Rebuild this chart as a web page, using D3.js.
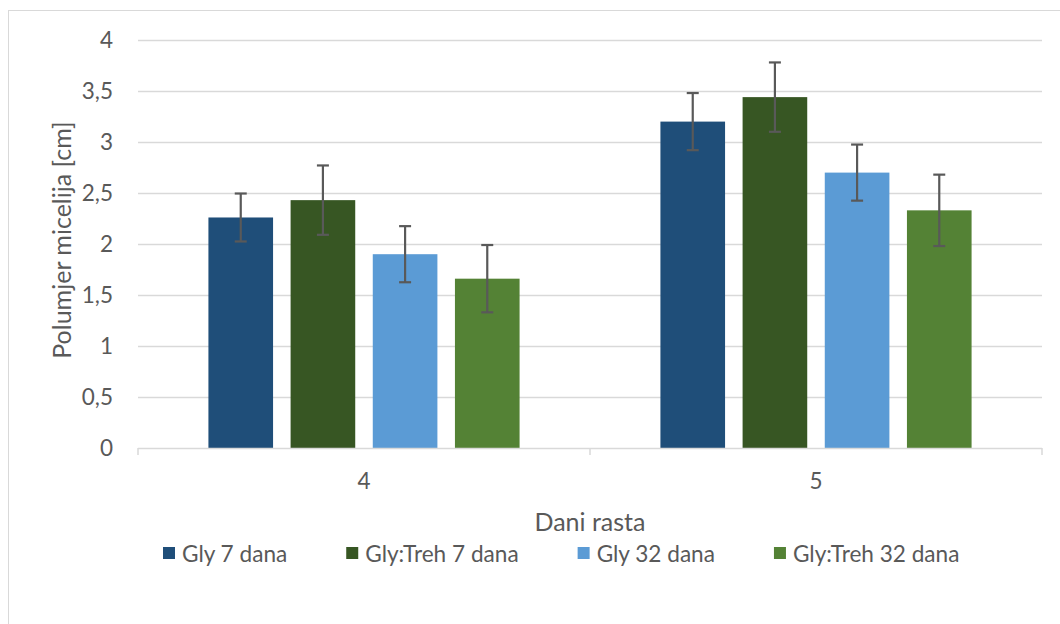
<!DOCTYPE html>
<html>
<head>
<meta charset="utf-8">
<script src="https://cdn.jsdelivr.net/npm/d3@7"></script>
<style>
  html, body { margin: 0; padding: 0; background: #ffffff; }
  svg { display: block; }
  text { font-family: Lato, "Open Sans", sans-serif; fill: #595959; }
</style>
</head>
<body>
<svg id="chart" width="1060" height="624"></svg>
<script>
// ---- data ----
const categories = ["4", "5"];
const seriesNames = ["Gly 7 dana", "Gly:Treh 7 dana", "Gly 32 dana", "Gly:Treh 32 dana"];
const glyDay7 = [2.26, 3.20];
const glyTrehDay7 = [2.43, 3.44];
const glyDay32 = [1.90, 2.70];
const glyTrehDay32 = [1.66, 2.33];
const errGlyDay7 = [0.235, 0.28];
const errGlyTrehDay7 = [0.34, 0.34];
const errGlyDay32 = [0.275, 0.275];
const errGlyTrehDay32 = [0.33, 0.35];
const yTickValues = [0, 0.5, 1, 1.5, 2, 2.5, 3, 3.5, 4];
const seriesColors = ["#1F4E79", "#375623", "#5B9BD5", "#548235"];
const yTitle = "Polumjer micelija [cm]";
const xTitle = "Dani rasta";

const seriesValues = [glyDay7, glyTrehDay7, glyDay32, glyTrehDay32];
const seriesErrors = [errGlyDay7, errGlyTrehDay7, errGlyDay32, errGlyTrehDay32];

const rows = [];
categories.forEach((c, ci) => {
  seriesNames.forEach((s, si) => {
    rows.push({ cat: c, series: s, value: seriesValues[si][ci], err: seriesErrors[si][ci], color: seriesColors[si] });
  });
});

const svg = d3.select("#chart");
const locale = d3.formatLocale({ decimal: ",", thousands: ".", grouping: [3], currency: ["", " €"] });
const fmt = locale.format("~g");

// chart border
svg.append("rect")
  .attr("x", 8.5).attr("y", 10.5)
  .attr("width", 1200).attr("height", 800)
  .attr("fill", "none").attr("stroke", "#D9D9D9").attr("stroke-width", 1);

const plotLeft = 138, plotRight = 1042, plotTop = 40, plotBottom = 448;

const y = d3.scaleLinear().domain([0, 4]).range([plotBottom, plotTop]);
const x0 = d3.scaleBand().domain(categories).range([plotLeft, plotRight]).paddingInner(0).paddingOuter(0);
const x1 = d3.scaleBand().domain(seriesNames).range([0, x0.bandwidth()]).paddingInner(0.2134).paddingOuter(0.857);

// gridlines
svg.append("g").selectAll("line.grid")
  .data(yTickValues.filter(v => v > 0))
  .join("line")
  .attr("x1", plotLeft).attr("x2", plotRight)
  .attr("y1", d => Math.round(y(d)) + 0.5).attr("y2", d => Math.round(y(d)) + 0.5)
  .attr("stroke", "#D9D9D9").attr("stroke-width", 1.3);

// y axis labels
const yAxis = d3.axisLeft(y).tickValues(yTickValues).tickFormat(fmt).tickSize(0).tickPadding(0);
const gy = svg.append("g").attr("transform", `translate(113,0)`).call(yAxis);
gy.select(".domain").remove();
gy.selectAll("text").attr("font-size", 22.5).attr("fill", "#595959").style("font-family", "Lato, sans-serif").attr("dy", "0.34em");

// bars
svg.append("g").selectAll("rect.bar")
  .data(rows)
  .join("rect")
  .attr("x", d => x0(d.cat) + x1(d.series))
  .attr("width", x1.bandwidth())
  .attr("y", d => y(d.value))
  .attr("height", d => y(0) - y(d.value))
  .attr("fill", d => d.color);

// error bars
const eg = svg.append("g").attr("stroke", "#595959").attr("stroke-width", 2.2).attr("fill", "none");
rows.forEach(d => {
  const cx = x0(d.cat) + x1(d.series) + x1.bandwidth() / 2;
  const yt = y(d.value + d.err), yb = y(d.value - d.err);
  eg.append("line").attr("x1", cx).attr("x2", cx).attr("y1", yt).attr("y2", yb);
  eg.append("line").attr("x1", cx - 6).attr("x2", cx + 6).attr("y1", yt).attr("y2", yt);
  eg.append("line").attr("x1", cx - 6).attr("x2", cx + 6).attr("y1", yb).attr("y2", yb);
});

// x axis baseline and boundary ticks
const xa = svg.append("g");
xa.append("line").attr("x1", plotLeft).attr("x2", plotRight)
  .attr("y1", plotBottom + 0.5).attr("y2", plotBottom + 0.5)
  .attr("stroke", "#D9D9D9").attr("stroke-width", 1.5);
const boundaries = categories.map(c => x0(c)).concat([x0(categories[categories.length - 1]) + x0.bandwidth()]);
xa.selectAll("line.tick").data(boundaries).join("line")
  .attr("x1", d => d).attr("x2", d => d)
  .attr("y1", plotBottom).attr("y2", plotBottom + 7)
  .attr("stroke", "#D9D9D9").attr("stroke-width", 1.5);

const xAxis = d3.axisBottom(x0).tickSize(0).tickPadding(0);
const gx = svg.append("g").attr("transform", `translate(0,481)`).call(xAxis);
gx.select(".domain").remove();
gx.selectAll("text").attr("font-size", 22.5).attr("fill", "#595959").style("font-family", "Lato, sans-serif").attr("dy", "0.34em");

// axis titles
svg.append("text")
  .attr("transform", "translate(61,240) rotate(-90)")
  .attr("text-anchor", "middle").attr("dominant-baseline", "central")
  .attr("font-size", 25).text(yTitle);
svg.append("text")
  .attr("x", 590).attr("y", 521)
  .attr("text-anchor", "middle").attr("dominant-baseline", "central")
  .attr("font-size", 25).text(xTitle);

// legend
const legend = svg.append("g");
let lx = 163;
seriesNames.forEach((s, i) => {
  legend.append("rect").attr("x", lx).attr("y", 547).attr("width", 12).attr("height", 12).attr("fill", seriesColors[i]);
  const t = legend.append("text").attr("x", lx + 19).attr("y", 553)
    .attr("dominant-baseline", "central").attr("font-size", 22.6).text(s);
  const w = t.node().getComputedTextLength();
  lx = lx + 19 + w + 59;
});
</script>
</body>
</html>
